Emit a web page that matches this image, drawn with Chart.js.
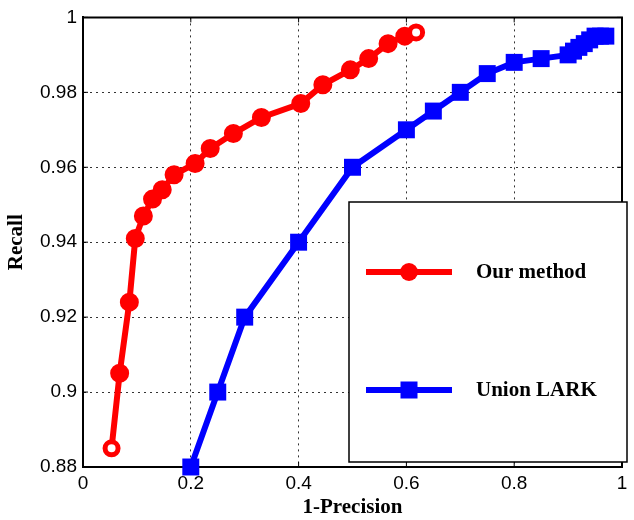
<!DOCTYPE html>
<html>
<head>
<meta charset="utf-8">
<script src="https://cdn.jsdelivr.net/npm/chart.js@4/dist/chart.umd.min.js"></script>
<style>
  body { margin: 0; background: #fff; }
  canvas { display: block; }
</style>
</head>
<body>
<canvas id="prChart" width="634" height="520"></canvas>
<script>
// values (x = 1-Precision, y = Recall)
var oursX = [0.053, 0.068, 0.086, 0.097, 0.112, 0.129, 0.147, 0.169, 0.208, 0.236, 0.279, 0.331, 0.404, 0.445, 0.496, 0.530, 0.566, 0.597, 0.618];
var oursY = [0.885, 0.905, 0.924, 0.941, 0.947, 0.9515, 0.954, 0.958, 0.961, 0.965, 0.969, 0.9733, 0.977, 0.982, 0.986, 0.989, 0.993, 0.995, 0.996];

var larkX = [0.20, 0.25, 0.30, 0.40, 0.50, 0.60, 0.65, 0.70, 0.75, 0.80, 0.85, 0.90, 0.91, 0.92, 0.93, 0.94, 0.95, 0.96, 0.97];
var larkY = [0.880, 0.900, 0.920, 0.940, 0.960, 0.970, 0.975, 0.980, 0.985, 0.988, 0.989, 0.990, 0.991, 0.992, 0.993, 0.994, 0.995, 0.995, 0.995];

var xTicks = [0, 0.2, 0.4, 0.6, 0.8, 1];
var yTicks = [0.88, 0.90, 0.92, 0.94, 0.96, 0.98, 1];

var labels = ['Our method', 'Union LARK'];

function pts(xs, ys) {
  return xs.map(function(x, i) { return { x: x, y: ys[i] }; });
}

// first and last red markers are open circles in the original
function isEnd(i) { return i === 0 || i === oursX.length - 1; }
var oursBg = oursX.map(function(x, i) { return isEnd(i) ? '#fff' : 'rgb(255,0,0)'; });
var oursRad = oursX.map(function(x, i) { return isEnd(i) ? 6.5 : 8; });
var oursBw = oursX.map(function(x, i) { return isEnd(i) ? 5 : 3; });

var serifBold = { family: "'Liberation Serif', 'Times New Roman', serif", weight: 'bold', size: 21 };
var sans = { family: "'Liberation Sans', Helvetica, Arial, sans-serif", size: 19 };

function fmt(v) { return String(Number(v.toFixed(2))); }

// top/right frame, inward ticks and the boxed legend
var frame = {
  id: 'frame',
  beforeDatasetsDraw: function(chart) {
    var ctx = chart.ctx, a = chart.chartArea;
    var sx = chart.scales.x, sy = chart.scales.y;
    ctx.save();
    ctx.strokeStyle = '#000';
    ctx.lineWidth = 1;
    ctx.beginPath();
    xTicks.forEach(function(v) {
      var px = sx.getPixelForValue(v);
      ctx.moveTo(px, a.bottom); ctx.lineTo(px, a.bottom - 5);
      ctx.moveTo(px, a.top); ctx.lineTo(px, a.top + 5);
    });
    yTicks.forEach(function(v) {
      var py = sy.getPixelForValue(v);
      ctx.moveTo(a.left, py); ctx.lineTo(a.left + 5, py);
      ctx.moveTo(a.right, py); ctx.lineTo(a.right - 5, py);
    });
    ctx.stroke();
    ctx.lineWidth = 2;
    ctx.beginPath();
    ctx.moveTo(a.left, a.top); ctx.lineTo(a.right, a.top); ctx.lineTo(a.right, a.bottom);
    ctx.stroke();
    ctx.restore();
  },
  afterDatasetsDraw: function(chart) {
    var ctx = chart.ctx;
    var bx = 349, by = 202, bw = 278, bh = 260;
    ctx.save();
    ctx.fillStyle = '#fff';
    ctx.fillRect(bx, by, bw, bh);
    ctx.strokeStyle = '#000';
    ctx.lineWidth = 1.5;
    ctx.strokeRect(bx, by, bw, bh);
    var rows = [272, 390];
    chart.data.datasets.forEach(function(ds, i) {
      var y = rows[i];
      ctx.strokeStyle = ds.borderColor;
      ctx.fillStyle = ds.borderColor;
      ctx.lineWidth = 6;
      ctx.beginPath();
      ctx.moveTo(366, y); ctx.lineTo(452, y);
      ctx.stroke();
      if (ds.pointStyle === 'rect') {
        ctx.fillRect(409 - 8.5, y - 8.5, 17, 17);
      } else {
        ctx.beginPath();
        ctx.arc(409, y, 9, 0, Math.PI * 2);
        ctx.fill();
      }
      ctx.fillStyle = '#000';
      ctx.font = 'bold 21px "Liberation Serif", "Times New Roman", serif';
      ctx.textBaseline = 'middle';
      ctx.fillText(ds.label, 476, y + 1);
    });
    ctx.restore();
  }
};

var ctx = document.getElementById('prChart');

var chart = new Chart(ctx, {
  type: 'scatter',
  data: {
    datasets: [{
      label: labels[0],
      data: pts(oursX, oursY),
      showLine: true,
      borderColor: 'rgb(255,0,0)',
      borderWidth: 6,
      pointStyle: 'circle',
      pointRadius: oursRad,
      pointBorderWidth: oursBw,
      pointBorderColor: 'rgb(255,0,0)',
      pointBackgroundColor: oursBg,
      clip: false
    }, {
      label: labels[1],
      data: pts(larkX, larkY),
      showLine: true,
      borderColor: 'rgb(0,0,255)',
      borderWidth: 6,
      pointStyle: 'rect',
      pointRadius: 12,
      pointBorderWidth: 0,
      pointBackgroundColor: 'rgb(0,0,255)',
      clip: false
    }]
  },
  options: {
    responsive: false,
    animation: false,
    layout: { padding: { left: 0, right: 6, top: 16, bottom: 0 } },
    plugins: { legend: { display: false }, tooltip: { enabled: false } },
    scales: {
      x: {
        type: 'linear',
        min: 0, max: 1,
        afterBuildTicks: function(s) { s.ticks = xTicks.map(function(v) { return { value: v }; }); },
        afterFit: function(s) { s.height = 53; },
        ticks: { color: '#000', font: sans, padding: 5, maxRotation: 0, callback: fmt },
        grid: { color: '#333', lineWidth: 1, drawTicks: false },
        border: { display: true, color: '#000', width: 2, dash: [2, 4] },
        title: { display: true, text: '1-Precision', color: '#000', font: serifBold, padding: { top: 0, bottom: 0 } }
      },
      y: {
        type: 'linear',
        min: 0.88, max: 1,
        afterBuildTicks: function(s) { s.ticks = yTicks.map(function(v) { return { value: v }; }); },
        afterFit: function(s) { s.width = 83; },
        ticks: { color: '#000', font: sans, padding: 6, callback: fmt },
        grid: { color: '#333', lineWidth: 1, drawTicks: false },
        border: { display: true, color: '#000', width: 2, dash: [2, 4] },
        title: { display: true, text: 'Recall', color: '#000', font: serifBold, padding: { top: 4, bottom: 0 } }
      }
    }
  },
  plugins: [frame]
});
</script>
</body>
</html>
